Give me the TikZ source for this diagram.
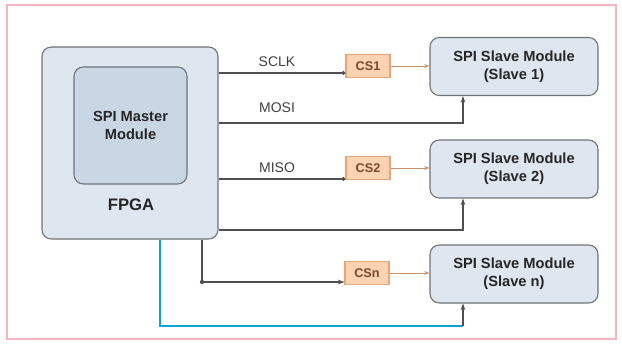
\documentclass[tikz,border=0pt]{standalone}
\usepackage{fontspec}
\setmainfont{Liberation Sans}
\usetikzlibrary{arrows.meta}

\definecolor{framepink}{HTML}{F2B6C0}
\definecolor{boxfill}{HTML}{DEE6EF}
\definecolor{boxline}{HTML}{6E7378}
\definecolor{masterfill}{HTML}{C9D7E4}
\definecolor{csfill}{HTML}{F9D3B2}
\definecolor{csline}{HTML}{E8A57A}
\definecolor{cstext}{HTML}{7A4A2C}
\definecolor{wire}{HTML}{505050}
\definecolor{cswire}{HTML}{C8926C}
\definecolor{buswire}{HTML}{0EA3DA}

\begin{document}
\begin{tikzpicture}[x=0.75pt,y=-0.75pt,
  module/.style={draw=boxline, fill=boxfill, rounded corners=7pt, line width=0.8pt,
    inner sep=0pt, align=center, text=black!85,
    font=\bfseries\fontsize{11}{13.5}\selectfont},
  slavebox/.style={module, minimum width=126pt, minimum height=43.5pt},
  csbox/.style={draw=csline, fill=csfill, line width=0.8pt, inner sep=0pt,
    minimum width=33pt, minimum height=17.25pt, text=cstext,
    font=\bfseries\fontsize{9.5}{11}\selectfont},
  sig/.style={draw=wire, line width=0.8pt},
  sigdot/.style={sig, -{Circle[length=3pt]}},
  sigarrow/.style={sig, -{Stealth[length=5pt,width=3.5pt]}},
  csarrow/.style={draw=cswire, line width=0.7pt, -{Stealth[length=4pt,width=3pt]}},
  bus/.style={draw=buswire, line width=1.8pt},
  wirelabel/.style={text=black!75, font=\fontsize{10.5}{12}\selectfont}]

  \useasboundingbox (0,0) rectangle (622,345);
  \draw[framepink, line width=1.5pt] (7,5) rectangle (616,339);

  % FPGA with master
  \node[module, minimum width=132pt, minimum height=144pt] (fpga) at (130,143) {};
  \node[module, fill=masterfill, minimum width=84.75pt, minimum height=87.75pt] (master) at (130.5,125.5) {SPI Master\\Module};
  \node[font=\bfseries\fontsize{12.5}{14}\selectfont, text=black!85] (fpgalabel) at (131,205) {FPGA};

  % slaves
  \node[slavebox] (slave1) at (514,66.5) {SPI Slave Module\\(Slave 1)};
  \node[slavebox] (slave2) at (514,169) {SPI Slave Module\\(Slave 2)};
  \node[slavebox] (slaven) at (514,274) {SPI Slave Module\\(Slave n)};

  % chip selects
  \node[csbox] (cs1) at (368,66) {CS1};
  \node[csbox] (cs2) at (368,168) {CS2};
  \node[csbox] (csn) at (367,273) {CSn};

  % wire labels
  \node[wirelabel] (sclk) at (277,62) {SCLK};
  \node[wirelabel] (mosi) at (277,108) {MOSI};
  \node[wirelabel] (miso) at (277,168) {MISO};

  \coordinate (tap1) at (463,123);
  \coordinate (tap2) at (463,230);
  \coordinate (tapn) at (463,326);
  \coordinate (corner) at (202,282);

  % wires
  \draw[sigdot] (fpga.east |- 0,73) -- (cs1.west |- 0,73);
  \draw[sigarrow] (fpga.east |- tap1) -- (tap1) -- (slave1.south -| tap1);
  \draw[sigdot] (fpga.east |- 0,179) -- (cs2.west |- 0,179);
  \draw[sigarrow] (fpga.east |- tap2) -- (tap2) -- (slave2.south -| tap2);
  \draw[sigarrow] (fpga.south -| corner) -- (corner) -- (csn.west |- corner);
  \fill[wire] (corner) circle (1.6pt);
  \draw[bus] (fpga.south -| 160,0) |- (tapn);
  \draw[sigarrow] (tapn) -- (slaven.south -| tapn);

  \draw[csarrow] (cs1.east) -- (slave1.west |- cs1.east);
  \draw[csarrow] (cs2.east) -- (slave2.west |- cs2.east);
  \draw[csarrow] (csn.east) -- (slaven.west |- csn.east);
\end{tikzpicture}
\end{document}
